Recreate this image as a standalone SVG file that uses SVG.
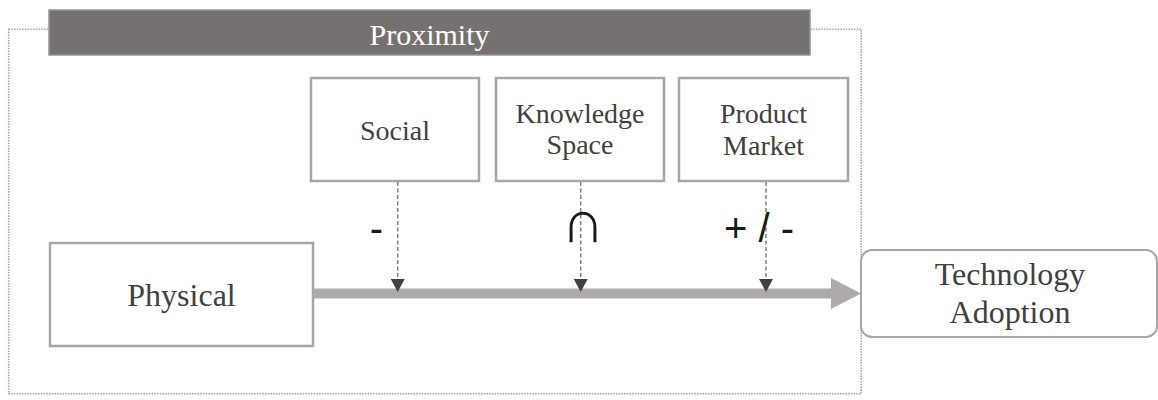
<svg xmlns="http://www.w3.org/2000/svg" width="1158" height="400" viewBox="0 0 1158 400">
  <defs>
    <style>
      .frame { fill: none; stroke: #a6a6a6; stroke-width: 1.6; stroke-dasharray: 1.5 1.2; }
      .box { fill: #ffffff; stroke: #a6a6a6; stroke-width: 2.5; }
      .label { font-family: "Liberation Serif", Tinos, "Noto Serif", "DejaVu Serif", FreeSerif, "Nimbus Roman", "Nimbus Roman No9 L", Times, "Times New Roman", serif; fill: #404040; text-anchor: middle; }
      .sign { font-family: "Liberation Sans", Arial, sans-serif; font-size: 40px; fill: #1a1a1a; }
      .dash { fill: none; stroke: #7f7f7f; stroke-width: 1.5; stroke-dasharray: 4 2.5; }
      .main { fill: #aeaaaa; stroke: none; }
    </style>
    <marker id="tip" viewBox="0 0 13 14" refX="13" refY="7" markerWidth="13" markerHeight="14" markerUnits="userSpaceOnUse" orient="auto">
      <path d="M0,0 L13,7 L0,14 Z" fill="#404040"/>
    </marker>
  </defs>

  <rect width="1158" height="400" fill="#ffffff"/>

  <!-- dotted enclosure for the proximity dimensions -->
  <rect class="frame" x="8.7" y="29.3" width="852.5" height="364.5"/>

  <!-- title bar -->
  <g id="proximity">
    <rect x="49" y="10" width="761" height="45" fill="#767171" stroke="#959595" stroke-width="1.5"/>
    <text class="label" x="429.5" y="45" font-size="30" style="fill:#ffffff">Proximity</text>
  </g>

  <g id="social">
    <rect class="box" x="311" y="78" width="168" height="103"/>
    <text class="label" x="395" y="140" font-size="28">Social</text>
  </g>

  <g id="knowledge-space">
    <rect class="box" x="496" y="78" width="168" height="103"/>
    <text class="label" x="580" y="123" font-size="28">Knowledge</text>
    <text class="label" x="580" y="154" font-size="28">Space</text>
  </g>

  <g id="product-market">
    <rect class="box" x="679" y="78" width="169" height="103"/>
    <text class="label" x="763.5" y="123" font-size="28">Product</text>
    <text class="label" x="763.5" y="155" font-size="28">Market</text>
  </g>

  <g id="physical">
    <rect class="box" x="50" y="243" width="263" height="103"/>
    <text class="label" x="181.5" y="306" font-size="32">Physical</text>
  </g>

  <g id="technology-adoption">
    <rect x="861" y="250" width="296" height="87" rx="11" ry="11" fill="#ffffff" stroke="#a6a6a6" stroke-width="2"/>
    <text class="label" x="1010" y="285" font-size="32">Technology</text>
    <text class="label" x="1010" y="323" font-size="32">Adoption</text>
  </g>

  <g id="connectors">
    <!-- main effect: physical proximity to adoption -->
    <rect class="main" x="313" y="288.5" width="519" height="10"/>
    <polygon class="main" points="831,278 861,293.5 831,309"/>
    <!-- moderating effects -->
    <line class="dash" x1="397.7" y1="182" x2="397.7" y2="292" marker-end="url(#tip)"/>
    <line class="dash" x1="580.7" y1="182" x2="580.7" y2="292" marker-end="url(#tip)"/>
    <line class="dash" x1="766" y1="182" x2="766" y2="292" marker-end="url(#tip)"/>
    <text class="sign" x="376.5" y="242" text-anchor="middle">-</text>
    <text class="sign" x="583" y="242" text-anchor="middle" style="font-size:60px">∩</text>
    <text class="sign" x="724" y="242">+ / -</text>
  </g>
</svg>
